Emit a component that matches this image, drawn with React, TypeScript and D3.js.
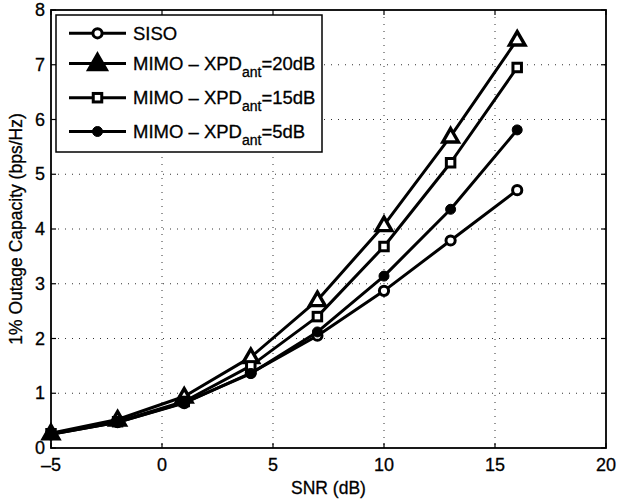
import React from "react";
import * as d3 from "d3";

const snr = [-5, -2, 1, 4, 7, 10, 13, 16];
const siso = [0.25, 0.47, 0.82, 1.37, 2.05, 2.87, 3.79, 4.71];
const xpd20 = [0.27, 0.52, 0.94, 1.66, 2.7, 4.07, 5.69, 7.46];
const xpd15 = [0.26, 0.48, 0.85, 1.5, 2.4, 3.68, 5.21, 6.95];
const xpd5 = [0.25, 0.47, 0.83, 1.36, 2.12, 3.14, 4.36, 5.81];

const xTicks = [-5, 0, 5, 10, 15, 20];
const yTicks = [0, 1, 2, 3, 4, 5, 6, 7, 8];

const seriesNames = ["SISO", "MIMO – XPD", "MIMO – XPD", "MIMO – XPD"];
const seriesSub = ["", "ant", "ant", "ant"];
const seriesSuffix = ["", "=20dB", "=15dB", "=5dB"];
const seriesMarkers = ["circle", "triangle", "square", "dot"];
const seriesValues = [siso, xpd20, xpd15, xpd5];

const W = 617;
const H = 500;
const M = { left: 51, right: 606, top: 10, bottom: 448 };
const FONT = "'Liberation Sans', Arial, Helvetica, sans-serif";

function Marker({ type, cx, cy, legend }: { type: string; cx: number; cy: number; legend?: boolean }) {
  if (type === "circle") {
    return <circle cx={cx} cy={cy} r={4.6} fill="white" stroke="black" strokeWidth={3} />;
  }
  if (type === "dot") {
    return <circle cx={cx} cy={cy} r={5} fill="black" stroke="black" strokeWidth={1} />;
  }
  if (type === "square") {
    const s = 8.5;
    return (
      <rect x={cx - s / 2} y={cy - s / 2} width={s} height={s} fill="white" stroke="black" strokeWidth={3} />
    );
  }
  const tri = d3.symbol().type(d3.symbolTriangle).size(legend ? 130 : 105)();
  return (
    <path
      d={tri || ""}
      transform={`translate(${cx},${cy + 1})`}
      fill={legend ? "black" : "white"}
      stroke="black"
      strokeWidth={3.4}
      strokeLinejoin="miter"
    />
  );
}

export default function App() {
  const x = d3.scaleLinear().domain([-5, 20]).range([M.left, M.right]);
  const y = d3.scaleLinear().domain([0, 8]).range([M.bottom, M.top]);
  const line = d3
    .line<number>()
    .x((_, i) => x(snr[i]))
    .y((d) => y(d));

  const legendY = [33.3, 63.5, 97.7, 131.5];
  const textStyle = { stroke: "black", strokeWidth: 0.3 };

  return (
    <svg width={W} height={H} style={{ position: "absolute", left: 0, top: 0, background: "white" }} fontFamily={FONT}>
      <rect x={0} y={0} width={W} height={H} fill="white" />
      {/* grid */}
      {xTicks.slice(1, -1).map((t) => (
        <line key={"gx" + t} x1={x(t)} x2={x(t)} y1={M.top} y2={M.bottom} stroke="black" strokeWidth={1} strokeDasharray="1,6" opacity={0.8} />
      ))}
      {yTicks.slice(1, -1).map((t) => (
        <line key={"gy" + t} x1={M.left} x2={M.right} y1={y(t)} y2={y(t)} stroke="black" strokeWidth={1} strokeDasharray="1,6" opacity={0.8} />
      ))}
      {/* ticks */}
      {xTicks.map((t) => (
        <g key={"tx" + t}>
          <line x1={x(t)} x2={x(t)} y1={M.bottom} y2={M.bottom - 5} stroke="black" strokeWidth={1.2} />
          <line x1={x(t)} x2={x(t)} y1={M.top} y2={M.top + 5} stroke="black" strokeWidth={1.2} />
          <text x={x(t)} y={M.bottom + 17} textAnchor="middle" dominantBaseline="central" fontSize={18} style={textStyle}>
            {t < 0 ? "–" + Math.abs(t) : t}
          </text>
        </g>
      ))}
      {yTicks.map((t) => (
        <g key={"ty" + t}>
          <line x1={M.left} x2={M.left + 5} y1={y(t)} y2={y(t)} stroke="black" strokeWidth={1.2} />
          <line x1={M.right} x2={M.right - 5} y1={y(t)} y2={y(t)} stroke="black" strokeWidth={1.2} />
          <text x={M.left - 6} y={y(t)} textAnchor="end" dominantBaseline="central" fontSize={18} style={textStyle}>
            {t}
          </text>
        </g>
      ))}
      {/* series */}
      {seriesValues.map((vals, si) => (
        <g key={"s" + si}>
          <path d={line(vals) || ""} fill="none" stroke="black" strokeWidth={3} strokeLinejoin="round" />
          {vals.map((v, i) => (
            <Marker key={i} type={seriesMarkers[si]} cx={x(snr[i])} cy={y(v)} />
          ))}
        </g>
      ))}
      {/* axes box */}
      <rect x={M.left} y={M.top} width={M.right - M.left} height={M.bottom - M.top} fill="none" stroke="black" strokeWidth={1.8} />
      {/* legend */}
      <rect x={56} y={15} width={266} height={137} fill="white" stroke="black" strokeWidth={1.5} />
      {seriesNames.map((name, i) => (
        <g key={"l" + i}>
          <line x1={69} x2={126} y1={legendY[i]} y2={legendY[i]} stroke="black" strokeWidth={3} />
          <Marker type={seriesMarkers[i]} cx={97.5} cy={legendY[i]} legend />
          <text x={133} y={legendY[i] + 6.5} fontSize={18.5} style={textStyle}>
            {name}
            {seriesSub[i] && (
              <tspan fontSize={14} dy={7}>
                {seriesSub[i]}
              </tspan>
            )}
            {seriesSuffix[i] && <tspan dy={seriesSub[i] ? -7 : 0}>{seriesSuffix[i]}</tspan>}
          </text>
        </g>
      ))}
      {/* axis titles */}
      <text x={(M.left + M.right) / 2} y={488} textAnchor="middle" dominantBaseline="central" fontSize={17.5} style={textStyle}>
        SNR (dB)
      </text>
      <text
        transform={`translate(16,${(M.top + M.bottom) / 2}) rotate(-90)`}
        textAnchor="middle"
        dominantBaseline="central"
        fontSize={17.5}
        style={textStyle}
      >
        1% Outage Capacity (bps/Hz)
      </text>
    </svg>
  );
}
